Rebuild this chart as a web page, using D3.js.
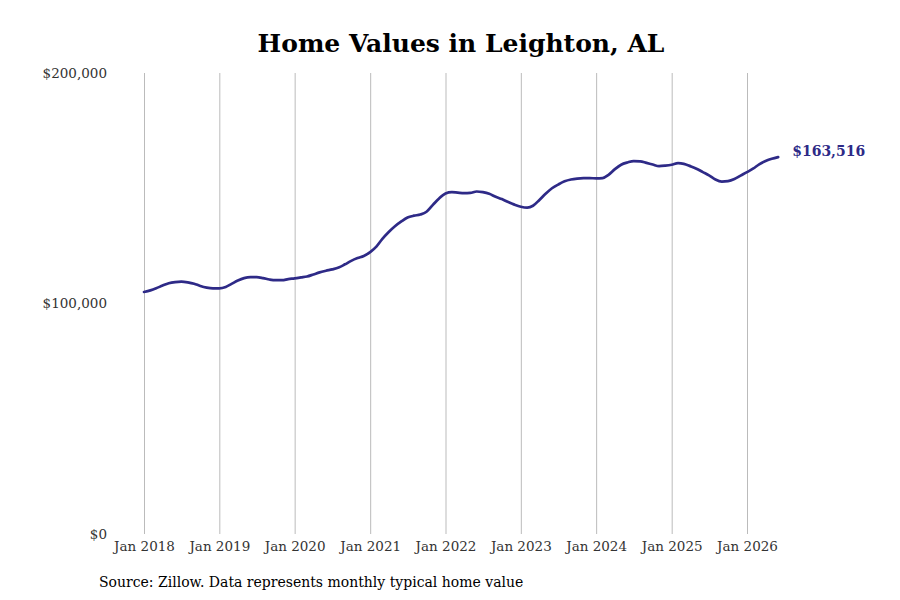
<!DOCTYPE html>
<html><head><meta charset="utf-8">
<script src="https://cdn.jsdelivr.net/npm/d3@7"></script>
<style>body{margin:0;background:#fff}svg{display:block}</style>
</head><body>
<svg id="c" width="900" height="600"></svg>
<script>
const startYear = 2018, startMonth = 0;
const values = [
105.0,105.7,106.6,107.8,108.8,109.3,109.5,109.2,108.6,107.6,106.9,106.6,
106.6,107.2,108.5,110.0,111.0,111.4,111.4,111.0,110.4,110.1,110.1,110.6,
110.9,111.3,111.7,112.6,113.5,114.2,114.8,115.6,117.0,118.5,119.7,120.6,
122.3,124.8,128.0,131.0,133.5,135.6,137.3,138.1,138.6,139.8,142.8,145.6,
147.7,148.3,148.1,147.9,148.0,148.6,148.3,147.6,146.3,145.3,144.0,142.9,
142.0,141.6,142.4,144.9,147.6,150.0,151.6,153.0,153.8,154.2,154.4,154.4,
154.3,154.4,155.8,158.3,160.2,161.2,161.8,161.7,161.0,160.3,159.6,159.8,
160.2,160.9,160.6,159.6,158.5,157.0,155.6,153.8,152.9,153.1,154.0,155.5,
157.0,158.6,160.4,161.8,162.8,163.516
].map(v => v * 1000);
const xTickYears = [2018,2019,2020,2021,2022,2023,2024,2025,2026];
const yTicks = [0, 100000, 200000];
const title = "Home Values in Leighton, AL";
const source = "Source: Zillow. Data represents monthly typical home value";
const lastLabel = "$163,516";

const data = values.map((v,i) => ({date: new Date(startYear, startMonth + i, 1), value: v}));
const svg = d3.select("#c");
const font = "'DejaVu Serif', serif";
const x = d3.scaleTime().domain([new Date(2018,0,1), new Date(2026,0,1)]).range([144, 747]);
const y = d3.scaleLinear().domain([0, 200000]).range([534, 73]);

svg.append("text").attr("x", 461).attr("y", 52).attr("text-anchor","middle")
  .attr("font-family", font).attr("font-weight","bold").attr("font-size", 25).attr("fill","#000").text(title);

const xAxis = d3.axisBottom(x).tickValues(xTickYears.map(yr => new Date(yr,0,1)))
  .tickFormat(d3.timeFormat("Jan %Y")).tickSize(-(534-73)).tickPadding(7);
const gx = svg.append("g").attr("transform","translate(0,534)").call(xAxis);
gx.select(".domain").remove();
gx.selectAll("line").attr("stroke","#bbb").attr("stroke-width",1);
gx.selectAll("text").attr("font-family",font).attr("font-size",13.5).attr("fill","#333");

const yAxis = d3.axisLeft(y).tickValues(yTicks).tickFormat(d => "$" + d3.format(",")(d)).tickSize(0).tickPadding(0);
const gy = svg.append("g").attr("transform","translate(107,0)").call(yAxis);
gy.select(".domain").remove();
gy.selectAll("text").attr("font-family",font).attr("font-size",13.5).attr("fill","#333");

svg.append("path").datum(data)
  .attr("fill","none").attr("stroke","#2e2a87").attr("stroke-width",2.7)
  .attr("stroke-linejoin","round").attr("stroke-linecap","round")
  .attr("d", d3.line().x(d => x(d.date)).y(d => y(d.value)).curve(d3.curveMonotoneX));

const last = data[data.length-1];
svg.append("text").attr("x", x(last.date) + 14).attr("y", y(last.value) - 1)
  .attr("font-family",font).attr("font-weight","bold").attr("font-size",14).attr("fill","#2e2a87").text(lastLabel);

svg.append("text").attr("x", 99).attr("y", 587).attr("font-family",font).attr("font-size",14).attr("fill","#000").text(source);
</script>
</body></html>
